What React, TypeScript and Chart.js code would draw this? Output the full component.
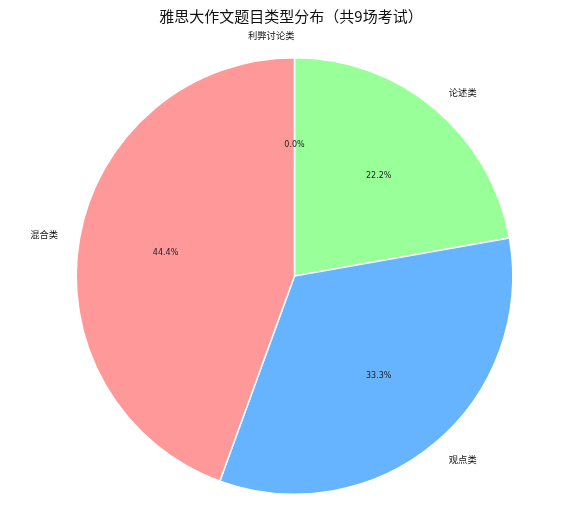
import React, { useEffect, useRef } from "react";
import { Chart, registerables } from "chart.js";

Chart.register(...registerables);

const TITLE = "雅思大作文题目类型分布（共9场考试）";
const categories = ["利弊讨论类", "论述类", "观点类", "混合类"];
const counts = [0, 2, 3, 4];
const colors = ["#ffcc99", "#99ff99", "#66b3ff", "#ff9999"];

const labelPlugin = {
  id: "pieLabels",
  afterDatasetsDraw(chart: any) {
    const ctx = chart.ctx;
    const meta = chart.getDatasetMeta(0);
    const total = counts.reduce((a, b) => a + b, 0);
    ctx.save();
    meta.data.forEach((arc: any, i: number) => {
      const { x, y, startAngle, endAngle, outerRadius } = arc.getProps(
        ["x", "y", "startAngle", "endAngle", "outerRadius"],
        true
      );
      const mid = (startAngle + endAngle) / 2;
      const cx = Math.cos(mid);
      const cy = Math.sin(mid);
      // percentage
      ctx.fillStyle = "#222";
      ctx.font = "8px 'DejaVu Sans', sans-serif";
      ctx.textAlign = "center";
      ctx.textBaseline = "middle";
      const pct = ((counts[i] / total) * 100).toFixed(1) + "%";
      ctx.fillText(pct, x + cx * outerRadius * 0.6, y + cy * outerRadius * 0.6);
      // category label
      ctx.font = "9.3px 'Noto Sans CJK SC', sans-serif";
      ctx.fillStyle = "#111";
      ctx.textAlign = cx > 1e-6 ? "left" : "right";
      ctx.fillText(categories[i], x + cx * outerRadius * 1.1, y + cy * outerRadius * 1.1);
    });
    // title
    ctx.font = "15px 'Noto Sans CJK SC', sans-serif";
    ctx.fillStyle = "#111";
    ctx.textAlign = "center";
    ctx.textBaseline = "middle";
    ctx.fillText(TITLE, 291, 16);
    ctx.restore();
  },
};

export default function App() {
  const ref = useRef<HTMLCanvasElement>(null);
  useEffect(() => {
    document.body.style.margin = "0";
    const chart = new Chart(ref.current!, {
      type: "pie",
      data: {
        labels: categories,
        datasets: [
          {
            data: counts,
            backgroundColor: colors,
            borderColor: "#ffffff",
            borderWidth: 1.5,
          },
        ],
      },
      options: {
        animation: false,
        responsive: false,
        maintainAspectRatio: false,
        layout: { padding: { top: 57, bottom: 15, left: 18, right: 0 } },
        plugins: {
          legend: { display: false },
          title: { display: false },
          tooltip: { enabled: false },
        },
      },
      plugins: [labelPlugin],
    });
    return () => chart.destroy();
  }, []);
  return (
    <div style={{ position: "absolute", left: 0, top: 0, width: 571, height: 510, background: "#fff" }}>
      <canvas ref={ref} width={571} height={510} style={{ width: 571, height: 510 }} />
    </div>
  );
}
